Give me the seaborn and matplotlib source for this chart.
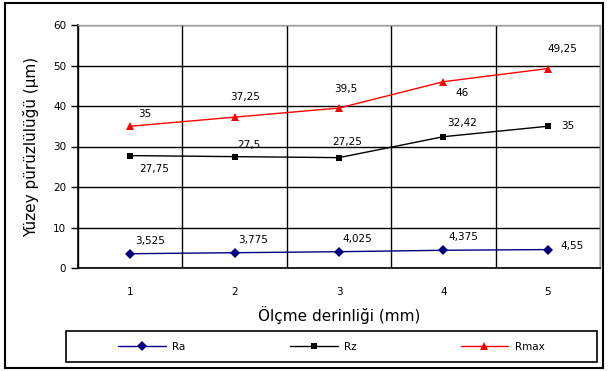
import matplotlib
matplotlib.use('Agg')
import matplotlib.pyplot as plt
import seaborn as sns
import pandas as pd
from matplotlib.patches import Rectangle
from matplotlib.ticker import MultipleLocator, FixedLocator

# veriler
derinlik = [1, 2, 3, 4, 5]
ra = [3.525, 3.775, 4.025, 4.375, 4.55]
rz = [27.75, 27.5, 27.25, 32.42, 35]
rmax = [35, 37.25, 39.5, 46, 49.25]

sns.set_style('white')
plt.rcParams['font.family'] = ['DejaVu Sans']
plt.rcParams['text.color'] = 'black'
plt.rcParams['axes.labelcolor'] = 'black'
plt.rcParams['xtick.color'] = 'black'
plt.rcParams['ytick.color'] = 'black'

fig = plt.figure(figsize=(6.08, 3.71), dpi=100)
ax = fig.add_axes([78 / 608, 103 / 371, 522 / 608, 243 / 371])

df = pd.DataFrame({'x': derinlik, 'Ra': ra, 'Rz': rz, 'Rmax': rmax})

sns.lineplot(data=df, x='x', y='Ra', ax=ax, color='#000080', marker='D',
             markersize=5, linewidth=1, markeredgewidth=0, label='Ra')
sns.lineplot(data=df, x='x', y='Rz', ax=ax, color='black', marker='s',
             markersize=5, linewidth=1, markeredgewidth=0, label='Rz')
sns.lineplot(data=df, x='x', y='Rmax', ax=ax, color='red', marker='^',
             markersize=6, linewidth=1, markeredgewidth=0, label='Rmax')

# etiket konumlari (piksel ofsetleri)
ofs_ra = [(20, 13), (18, 13), (18, 13), (20, 13), (24, 4)]
ofs_rz = [(24, -13), (14, 12), (8, 16), (19, 14), (20, 0)]
ofs_rmax = [(15, 12), (10, 20), (7, 19), (19, -11), (15, 20)]

for vals, ofs in [(ra, ofs_ra), (rz, ofs_rz), (rmax, ofs_rmax)]:
    for xi, yi, o in zip(derinlik, vals, ofs):
        ax.annotate(f'{yi:g}'.replace('.', ','), (xi, yi), xytext=o,
                    textcoords='offset pixels', ha='center', va='center',
                    fontsize=7.5)

ax.set_xlim(0.5, 5.5)
ax.set_ylim(0, 60)
ax.yaxis.set_major_locator(MultipleLocator(10))
ax.xaxis.set_major_locator(FixedLocator(derinlik))
ax.xaxis.set_minor_locator(FixedLocator([0.5, 1.5, 2.5, 3.5, 4.5, 5.5]))
ax.tick_params(axis='x', which='major', length=0, labelsize=7.5, pad=14)
ax.tick_params(axis='x', which='minor', length=5, width=1, color='black', direction='out')
ax.tick_params(axis='y', which='major', length=5, width=1, color='black',
               direction='out', labelsize=7.5, left=True)
ax.grid(True, axis='y', which='major', color='black', linewidth=1)
ax.grid(True, axis='x', which='minor', color='black', linewidth=1)
ax.set_axisbelow(True)

ax.set_xlabel('Ölçme derinliği (mm)', fontsize=11, labelpad=6)
ax.set_ylabel('Yüzey pürüzlülüğü (µm)', fontsize=11, labelpad=10)

for s in ['left', 'bottom']:
    ax.spines[s].set_color('black')
    ax.spines[s].set_linewidth(1.2)
for s in ['top', 'right']:
    ax.spines[s].set_color('#a0a0a0')
    ax.spines[s].set_linewidth(1)

ax.get_legend().remove()
handles, labels = ax.get_legend_handles_labels()
leg = fig.legend(handles, labels, ncol=3, loc='center left',
                 bbox_to_anchor=(118 / 608, 24 / 371),
                 fontsize=7.5, frameon=False, handlelength=4.6,
                 handletextpad=0.6, columnspacing=10,
                 borderaxespad=0, borderpad=0)

# lejant cercevesi
fig.patches.append(Rectangle((66 / 608, 9 / 371), 531 / 608, 31 / 371,
                             transform=fig.transFigure, fill=False,
                             edgecolor='black', linewidth=1.2))
# dis cerceve
fig.patches.append(Rectangle((5 / 608, 3 / 371), 598 / 608, 365 / 371,
                             transform=fig.transFigure, fill=False,
                             edgecolor='black', linewidth=1.5))

fig.savefig('out.png', dpi=100)
